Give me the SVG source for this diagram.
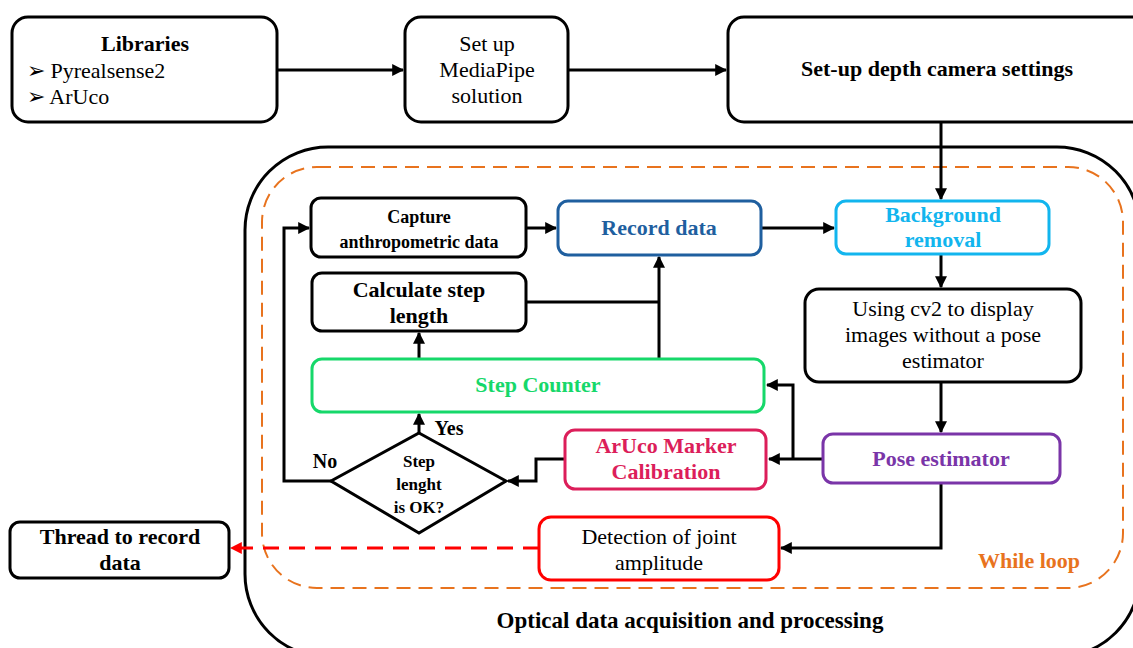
<svg xmlns="http://www.w3.org/2000/svg" width="1133" height="648" viewBox="0 0 1133 648">
<style>
text{font-family:"Liberation Serif","Times New Roman",serif;text-anchor:middle;fill:#000}
.b{font-weight:bold}
.box{fill:#fff;stroke:#000;stroke-width:3}
.ln{fill:none;stroke:#000;stroke-width:3}
</style>
<defs>
<marker id="ah" viewBox="0 0 10 10" refX="9" refY="5" markerWidth="4" markerHeight="4" markerUnits="strokeWidth" orient="auto"><path d="M0,0 L10,5 L0,10 z" fill="#000"/></marker>
<marker id="ahr" viewBox="0 0 10 10" refX="9" refY="5" markerWidth="4" markerHeight="4" markerUnits="strokeWidth" orient="auto"><path d="M0,0 L10,5 L0,10 z" fill="#f00"/></marker>
</defs>
<rect width="1133" height="648" fill="#fff"/>
<g id="outer">
<rect x="245" y="147" width="895" height="510" rx="83" fill="none" stroke="#000" stroke-width="3"/>
<text class="b" x="690" y="628" font-size="23">Optical data acquisition and processing</text>
</g>
<g id="loop">
<rect x="262" y="167" width="861" height="421" rx="55" fill="none" stroke="#E8731E" stroke-width="2" stroke-dasharray="14 8"/>
<text class="b" x="1029" y="568" font-size="22" style="fill:#E8731E">While loop</text>
</g>
<g id="connectors">
<path class="ln" d="M277,70 H403" marker-end="url(#ah)"/>
<path class="ln" d="M568,70 H726" marker-end="url(#ah)"/>
<path class="ln" d="M941,122 V199" marker-end="url(#ah)"/>
<path class="ln" d="M526,228 H556" marker-end="url(#ah)"/>
<path class="ln" d="M761,228 H834" marker-end="url(#ah)"/>
<path class="ln" d="M941,254 V287" marker-end="url(#ah)"/>
<path class="ln" d="M941,382 V432" marker-end="url(#ah)"/>
<path class="ln" d="M823,459 H769" marker-end="url(#ah)"/>
<path class="ln" d="M793,459 V385 H767" marker-end="url(#ah)"/>
<path class="ln" d="M565,459 H536 V481 H508" marker-end="url(#ah)"/>
<path class="ln" d="M419,433 V414" marker-end="url(#ah)"/>
<path class="ln" d="M331,481 H284 V228 H309" marker-end="url(#ah)"/>
<path class="ln" d="M419,359 V333" marker-end="url(#ah)"/>
<path class="ln" d="M526,302 H659"/>
<path class="ln" d="M659,359 V257" marker-end="url(#ah)"/>
<path class="ln" d="M941,483 V548 H781" marker-end="url(#ah)"/>
<path d="M539,548 H231" fill="none" stroke="#f00" stroke-width="3" stroke-dasharray="16 10" marker-end="url(#ahr)"/>
<text class="b" x="449" y="435" font-size="20">Yes</text>
<text class="b" x="325" y="468" font-size="20">No</text>
</g>
<g id="libraries">
<rect class="box" x="12" y="17" width="265" height="105" rx="16"/>
<text class="b" x="145" y="51" font-size="22">Libraries</text>
<text x="27" y="78" font-size="22" style="text-anchor:start">➢ Pyrealsense2</text>
<text x="27" y="104" font-size="22" style="text-anchor:start">➢ ArUco</text>
</g>
<g id="mediapipe">
<rect class="box" x="405" y="17" width="163" height="105" rx="16"/>
<text x="487" y="51" font-size="22">Set up</text>
<text x="487" y="77" font-size="22">MediaPipe</text>
<text x="487" y="103" font-size="22">solution</text>
</g>
<g id="depth">
<rect class="box" x="728" y="17" width="420" height="105" rx="16"/>
<text class="b" x="937" y="76" font-size="22">Set-up depth camera settings</text>
</g>
<g id="capture">
<rect class="box" x="311" y="198" width="215" height="59" rx="10"/>
<text class="b" x="419" y="223" font-size="18">Capture</text>
<text class="b" x="419" y="248" font-size="18">anthropometric data</text>
</g>
<g id="record">
<rect class="box" x="558" y="201" width="203" height="54" rx="10" style="stroke:#1F5F9F"/>
<text class="b" x="659" y="235" font-size="22" style="fill:#1F5F9F">Record data</text>
</g>
<g id="background">
<rect class="box" x="836" y="201" width="213" height="53" rx="10" style="stroke:#12B5EE"/>
<text class="b" x="943" y="222" font-size="22" style="fill:#12B5EE">Background</text>
<text class="b" x="943" y="247" font-size="22" style="fill:#12B5EE">removal</text>
</g>
<g id="calc">
<rect class="box" x="312" y="273" width="214" height="58" rx="10"/>
<text class="b" x="419" y="297" font-size="22">Calculate step</text>
<text class="b" x="419" y="323" font-size="22">length</text>
</g>
<g id="cv2">
<rect class="box" x="805" y="289" width="276" height="93" rx="14"/>
<text x="943" y="316" font-size="22">Using cv2 to display</text>
<text x="943" y="342" font-size="22">images without a pose</text>
<text x="943" y="368" font-size="22">estimator</text>
</g>
<g id="stepcounter">
<rect class="box" x="312" y="359" width="452" height="53" rx="10" style="stroke:#16D86A"/>
<text class="b" x="538" y="392" font-size="22" style="fill:#16D86A">Step Counter</text>
</g>
<g id="aruco">
<rect class="box" x="565" y="430" width="201" height="59" rx="10" style="stroke:#DC1E5A"/>
<text class="b" x="666" y="453" font-size="22" style="fill:#DC1E5A">ArUco Marker</text>
<text class="b" x="666" y="479" font-size="22" style="fill:#DC1E5A">Calibration</text>
</g>
<g id="pose">
<rect class="box" x="823" y="434" width="237" height="49" rx="10" style="stroke:#7A35A8"/>
<text class="b" x="941" y="466" font-size="22" style="fill:#7A35A8">Pose estimator</text>
</g>
<g id="decision">
<polygon class="box" points="419,433 506,481 419,533 331,481"/>
<text class="b" x="419" y="467" font-size="17">Step</text>
<text class="b" x="419" y="490" font-size="17">lenght</text>
<text class="b" x="419" y="513" font-size="17">is OK?</text>
</g>
<g id="detection">
<rect class="box" x="539" y="517" width="240" height="63" rx="12" style="stroke:#FF0000"/>
<text x="659" y="544" font-size="22">Detection of joint</text>
<text x="659" y="570" font-size="22">amplitude</text>
</g>
<g id="thread">
<rect class="box" x="10" y="522" width="219" height="56" rx="10"/>
<text class="b" x="120" y="544" font-size="22">Thread to record</text>
<text class="b" x="120" y="570" font-size="22">data</text>
</g>
</svg>
